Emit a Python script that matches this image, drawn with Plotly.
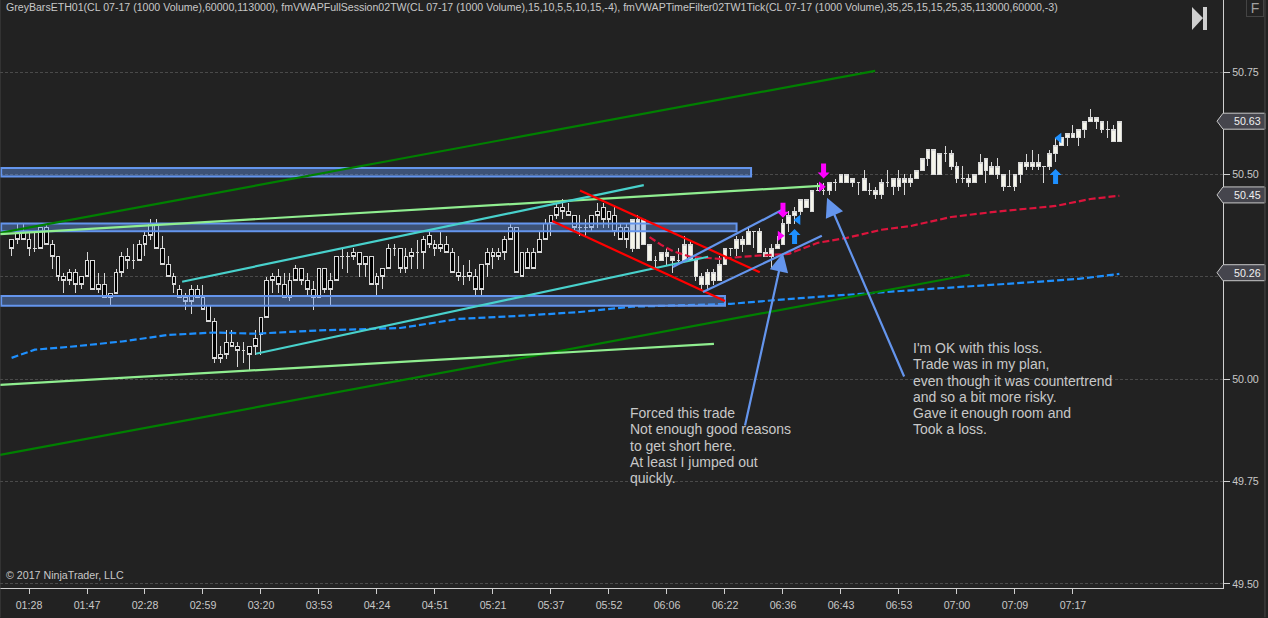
import plotly.graph_objects as go

# prices are stored as dollars above 50, one entry per bar
price_base = 50.0
n_grey = 107  # the bars before this one are painted black by GreyBars

body_top = [.34,.36,.36,.34,.32,.37,.37,.33,.30,.25,
    .26,.26,.25,.29,.29,.23,.23,.21,.26,.30,
    .30,.29,.33,.35,.38,.38,.32,.28,.25,.22,
    .20,.22,.22,.20,.18,.14,.06,.09,.09,.08,
    .07,.08,.10,.15,.24,.25,.25,.23,.24,.27,
    .27,.24,.22,.27,.27,.24,.30,.30,.30,.31,
    .31,.30,.30,.25,.27,.32,.32,.32,.30,.31,
    .31,.34,.35,.33,.33,.33,.31,.26,.25,.26,
    .25,.28,.31,.31,.31,.34,.37,.37,.31,.31,
    .31,.34,.38,.40,.42,.42,.41,.40,.37,.37,
    .40,.41,.42,.41,.40,.37,.37,.39,.39,.39,
    .33,.29,.31,.31,.30,.29,.33,.33,.29,.25,
    .26,.26,.28,.32,.32,.34,.34,.36,.36,.36,
    .31,.32,.33,.38,.40,.41,.44,.44,.46,.46,
    .46,.48,.48,.50,.50,.49,.48,.49,.46,.46,
    .48,.48,.49,.49,.49,.49,.51,.54,.56,.56,
    .55,.55,.55,.52,.49,.49,.50,.53,.54,.52,
    .52,.50,.47,.50,.53,.53,.53,.53,.52,.55,
    .57,.59,.60,.60,.61,.63,.64,.64,.63,.61,
    .61,.63]
body_bottom = [.32,.34,.34,.32,.32,.32,.33,.30,.25,.24,
    .24,.23,.23,.25,.22,.22,.20,.20,.21,.26,
    .29,.29,.29,.33,.35,.32,.28,.25,.23,.20,
    .19,.19,.20,.17,.14,.05,.05,.06,.08,.07,
    .07,.06,.08,.11,.15,.24,.23,.20,.20,.24,
    .24,.22,.20,.20,.22,.22,.24,.30,.30,.30,
    .28,.28,.23,.23,.25,.27,.32,.27,.27,.30,
    .31,.31,.33,.32,.32,.31,.26,.25,.25,.25,
    .22,.22,.28,.30,.30,.31,.34,.26,.25,.27,
    .27,.31,.34,.38,.40,.41,.40,.37,.37,.37,
    .37,.40,.39,.39,.36,.34,.34,.32,.32,.33,
    .29,.29,.29,.30,.29,.29,.29,.29,.25,.23,
    .23,.24,.24,.28,.32,.32,.33,.33,.36,.31,
    .30,.30,.32,.33,.38,.40,.41,.42,.41,.46,
    .46,.46,.48,.48,.48,.48,.48,.46,.46,.45,
    .45,.48,.47,.47,.48,.48,.49,.51,.54,.50,
    .50,.55,.52,.49,.49,.48,.48,.50,.51,.50,
    .50,.47,.47,.47,.50,.52,.52,.52,.52,.52,
    .55,.57,.59,.59,.59,.61,.63,.63,.61,.61,
    .58,.58]
highs = [.34,.38,.38,.36,.36,.37,.38,.34,.30,.26,
    .27,.27,.25,.31,.29,.26,.26,.21,.27,.31,
    .32,.33,.34,.36,.39,.39,.35,.30,.26,.23,
    .21,.23,.23,.23,.18,.15,.08,.12,.12,.09,
    .09,.08,.12,.15,.25,.26,.27,.26,.26,.28,
    .27,.26,.24,.27,.27,.26,.30,.32,.31,.32,
    .31,.30,.30,.26,.27,.33,.33,.32,.32,.32,
    .34,.35,.36,.34,.36,.35,.32,.30,.28,.29,
    .27,.28,.32,.32,.32,.35,.38,.37,.31,.32,
    .32,.36,.39,.40,.43,.44,.43,.40,.40,.39,
    .40,.43,.43,.41,.42,.38,.38,.39,.40,.39,
    .33,.30,.31,.32,.30,.32,.35,.34,.30,.26,
    .27,.27,.30,.32,.32,.35,.35,.37,.36,.37,
    .32,.33,.35,.39,.41,.42,.44,.44,.46,.48,
    .48,.48,.49,.50,.50,.49,.48,.51,.48,.47,
    .49,.51,.49,.51,.50,.50,.51,.54,.56,.56,
    .55,.57,.56,.53,.52,.50,.50,.55,.54,.53,
    .54,.50,.51,.50,.53,.55,.56,.55,.52,.56,
    .59,.59,.60,.62,.61,.63,.66,.64,.63,.63,
    .62,.63]
lows = [.30,.33,.34,.30,.31,.32,.33,.27,.24,.21,
    .23,.21,.22,.25,.22,.21,.20,.18,.21,.25,
    .27,.27,.29,.30,.34,.32,.28,.25,.21,.20,
    .17,.16,.20,.17,.14,.04,.04,.05,.08,.03,
    .04,.02,.06,.06,.15,.21,.21,.20,.19,.24,
    .23,.20,.17,.20,.21,.18,.24,.27,.26,.29,
    .25,.25,.23,.20,.22,.27,.30,.26,.26,.27,
    .27,.27,.32,.30,.31,.31,.26,.24,.23,.24,
    .20,.20,.25,.27,.29,.29,.34,.26,.25,.27,
    .27,.31,.34,.35,.39,.39,.40,.36,.35,.35,
    .36,.37,.37,.37,.35,.34,.32,.31,.32,.33,
    .29,.27,.29,.28,.26,.28,.29,.29,.24,.22,
    .22,.23,.24,.28,.30,.30,.31,.33,.32,.31,
    .30,.27,.32,.33,.36,.38,.40,.42,.41,.46,
    .45,.45,.46,.48,.48,.47,.45,.46,.45,.44,
    .44,.47,.45,.46,.45,.47,.49,.51,.52,.50,
    .50,.53,.51,.48,.48,.47,.48,.50,.48,.50,
    .49,.46,.47,.46,.48,.51,.51,.51,.48,.51,
    .53,.57,.57,.59,.57,.59,.63,.61,.60,.59,
    .58,.58]

tick_bars = list(range(3, 193, 10))
tick_times = ["01:28","01:47","02:28","02:59","03:20","03:53","04:24","04:51","05:21","05:37",
    "05:52","06:06","06:22","06:36","06:43","06:53","07:00","07:09","07:17"]
price_ticks = [49.50, 49.75, 50.00, 50.25, 50.50, 50.75]
price_labels = ["49.50", "49.75", "50.00", "", "50.50", "50.75"]
last_values = [50.63, 50.45, 50.26]

vwap_blue_bars = [0,4,10,19,27,35,42,53,67,77,88,98,107,115,124,136,149,158,175,184,191]
vwap_blue = [50.052,50.072,50.079,50.092,50.108,50.114,50.111,50.119,50.125,50.147,50.155,
    50.164,50.177,50.181,50.184,50.198,50.21,50.22,50.236,50.245,50.257]
vwap_red_bars = [110,112,114,117,122,128,134,139,144,146,150,155,162,169,180,186,191]
vwap_red = [50.347,50.328,50.313,50.299,50.294,50.301,50.306,50.333,50.345,50.352,50.365,
    50.374,50.396,50.408,50.423,50.44,50.448]

# drawing tools: bar0, price0, bar1, price1
zones = [(-1.8, 50.495, 127.5, 50.516), (-1.8, 50.361, 125, 50.38), (-1.8, 50.179, 123, 50.203)]
dark_green_lines = [(-2, 50.357, 148.9, 50.753), (-2, 49.815, 165.2, 50.255)]
light_green_lines = [(-2, 50.354, 139.4, 50.472), (-2, 49.986, 121.1, 50.086)]
teal_lines = [(29.4, 50.238, 109, 50.474), (42.1, 50.062, 120.1, 50.299)]
red_lines = [(98, 50.461, 129, 50.261), (93.2, 50.386, 123, 50.191)]
blue_lines = [(114, 50.274, 132.8, 50.413), (119.2, 50.213, 139.7, 50.35)]
note_arrows = [(126.4, 49.883, 133, 50.308), (154, 50.003, 140.6, 50.443)]

sell_arrows = [(140, 50.49), (133, 50.394)]
buy_arrows = [(135, 50.367), (180, 50.513)]
sell_marks = [(132.5, 50.35), (139.6, 50.47)]
buy_marks = [(135.6, 50.389), (180.6, 50.589)]

note_left = ["Forced this trade", "Not enough good reasons", "to get short here.",
    "At least I jumped out", "quickly."]
note_right = ["I'm OK with this loss.", "Trade was in my plan,",
    "even though it was countertrend", "and so a bit more risky.",
    "Gave it enough room and", "Took a loss."]

title_text = ("GreyBarsETH01(CL 07-17 (1000 Volume),60000,113000), "
    "fmVWAPFullSession02TW(CL 07-17 (1000 Volume),15,10,5,5,10,15,-4), "
    "fmVWAPTimeFilter02TW1Tick(CL 07-17 (1000 Volume),35,25,15,15,25,35,113000,60000,-3)")

FONT = "Liberation Sans"
BG = "#222222"
TEXT = "#c8c8c8"
BLUE = "#6495ed"

bars = list(range(len(highs)))
opens = [(body_top[i] if i < n_grey else body_bottom[i]) + price_base for i in bars]
closes = [(body_bottom[i] if i < n_grey else body_top[i]) + price_base for i in bars]

fig = go.Figure()
fig.add_trace(go.Candlestick(x=bars, open=opens, close=closes,
    high=[h + price_base for h in highs], low=[l + price_base for l in lows],
    increasing=dict(fillcolor="#f5f5ea", line=dict(color="#d8d8d8", width=1)),
    decreasing=dict(fillcolor="#000000", line=dict(color="#d8d8d8", width=1)),
    whiskerwidth=0, showlegend=False))
fig.add_trace(go.Scatter(x=vwap_blue_bars, y=vwap_blue, mode="lines",
    line=dict(color="#1e90ff", width=2.2, dash="7px,3px"), showlegend=False))
fig.add_trace(go.Scatter(x=vwap_red_bars, y=vwap_red, mode="lines",
    line=dict(color="#dc143c", width=2.2, dash="7px,3px"), showlegend=False))
fig.add_trace(go.Scatter(x=[m[0] for m in sell_marks], y=[m[1] for m in sell_marks], mode="markers",
    marker=dict(symbol="triangle-right", color="#ff00ff", size=9), showlegend=False))
fig.add_trace(go.Scatter(x=[m[0] for m in buy_marks], y=[m[1] for m in buy_marks], mode="markers",
    marker=dict(symbol="triangle-left", color="#1e90ff", size=9), showlegend=False))

for z in zones:
    fig.add_shape(type="rect", x0=z[0], y0=z[1], x1=z[2], y1=z[3],
        line=dict(color=BLUE, width=2), fillcolor="rgba(100,149,237,0.42)")
for lines, color in [(dark_green_lines, "#008000"), (light_green_lines, "#90ee90"),
        (teal_lines, "#48d1cc"), (red_lines, "#ff0000"), (blue_lines, BLUE)]:
    for l in lines:
        fig.add_shape(type="line", x0=l[0], y0=l[1], x1=l[2], y1=l[3], line=dict(color=color, width=2.2))

# up/down arrows, drawn in pixels around the tip so they keep their size
for b, p in sell_arrows:
    fig.add_shape(type="path", xsizemode="pixel", ysizemode="pixel", xanchor=b, yanchor=p,
        path="M0,0 L-6,6 L-2.5,6 L-2.5,15 L2.5,15 L2.5,6 L6,6 Z", fillcolor="#ff00ff", line_width=0)
for b, p in buy_arrows:
    fig.add_shape(type="path", xsizemode="pixel", ysizemode="pixel", xanchor=b, yanchor=p,
        path="M0,0 L-6,-6 L-2.5,-6 L-2.5,-15 L2.5,-15 L2.5,-6 L6,-6 Z", fillcolor="#1e90ff", line_width=0)

for a in note_arrows:
    fig.add_annotation(x=a[2], y=a[3], ax=a[0], ay=a[1], axref="x", ayref="y", text="",
        showarrow=True, arrowhead=2, arrowsize=1.7, arrowwidth=2.2, arrowcolor=BLUE)

for i, line in enumerate(note_left):
    fig.add_annotation(x=106.25, y=49.942, yshift=-16.3 * i, text=line, showarrow=False,
        xanchor="left", yanchor="top", font=dict(family=FONT, size=14, color=TEXT))
for i, line in enumerate(note_right):
    fig.add_annotation(x=155.05, y=50.1008, yshift=-16.3 * i, text=line, showarrow=False,
        xanchor="left", yanchor="top", font=dict(family=FONT, size=14, color=TEXT))

# last value flags on the price axis
for v in last_values:
    fig.add_shape(type="path", xref="paper", xsizemode="pixel", ysizemode="pixel", xanchor=1, yanchor=v,
        path="M-6,0 L0,8 L42,8 L42,-8 L0,-8 Z", fillcolor="#45454d", line=dict(color="#c8c8c8", width=1))
    fig.add_annotation(xref="paper", x=1, y=v, xshift=9, text="%.2f" % v, showarrow=False, xanchor="left",
        font=dict(family=FONT, size=10.67, color="#f0f0f0"))

fig.add_annotation(xref="paper", yref="paper", x=0, y=1, xshift=4, yshift=1, text=title_text, showarrow=False,
    xanchor="left", yanchor="top", font=dict(family=FONT, size=10.58, color=TEXT))
fig.add_annotation(xref="paper", yref="paper", x=0, y=0.022, xshift=4, text="© 2017 NinjaTrader, LLC",
    showarrow=False, xanchor="left", yanchor="middle", font=dict(family=FONT, size=10.67, color=TEXT))

# skip-to-end button and the F box in the top right corner
fig.add_shape(type="path", xref="paper", yref="paper", xsizemode="pixel", ysizemode="pixel", xanchor=1, yanchor=1,
    path="M-31,-7 L-20,-18 L-31,-30 Z M-20,-7 L-16,-7 L-16,-30 L-20,-30 Z", fillcolor="#cfcfcf", line_width=0)
fig.add_annotation(xref="paper", yref="paper", x=1, y=1, xshift=23, yshift=1, text="F", showarrow=False,
    xanchor="left", yanchor="top", width=16, height=16, bordercolor="#444444", borderwidth=1, borderpad=0,
    font=dict(family=FONT, size=14, color="#a0a0a0"))

# window frame lines left and right
for frame_x in [0, 1.0343]:
    fig.add_shape(type="line", xref="paper", yref="paper", x0=frame_x, x1=frame_x, y0=-0.05, y1=1,
        line=dict(color="#444444", width=1))

fig.update_layout(width=1268, height=618, margin=dict(l=0, r=45, t=0, b=30),
    paper_bgcolor=BG, plot_bgcolor=BG, boxgap=0.2, boxgroupgap=0.2, showlegend=False,
    font=dict(family=FONT, size=10.67, color=TEXT))
fig.update_xaxes(range=[-2, 208.87], rangeslider_visible=False, tickmode="array", tickvals=tick_bars,
    ticktext=tick_times, showgrid=False, zeroline=False, showline=True, linecolor="#d0d0d0", linewidth=1,
    ticks="outside", ticklen=5, tickcolor="#d0d0d0", tickangle=0, ticklabelstandoff=2)
fig.update_yaxes(range=[49.49, 50.926], side="right", tickmode="array", tickvals=price_ticks,
    ticktext=price_labels, showgrid=True, gridcolor="#4a4a4a", griddash="3px,2px", gridwidth=1,
    zeroline=False, showline=True, linecolor="#d0d0d0", linewidth=1, ticks="outside", ticklen=6,
    tickcolor="#d0d0d0")

# crisp candle edges like the platform draws them
fig.write_html("out.html", config=dict(displayModeBar=False),
    post_script="document.body.style.margin='0';"
    "document.querySelectorAll('.boxlayer path').forEach(function(p){p.style.shapeRendering='crispEdges';});")
